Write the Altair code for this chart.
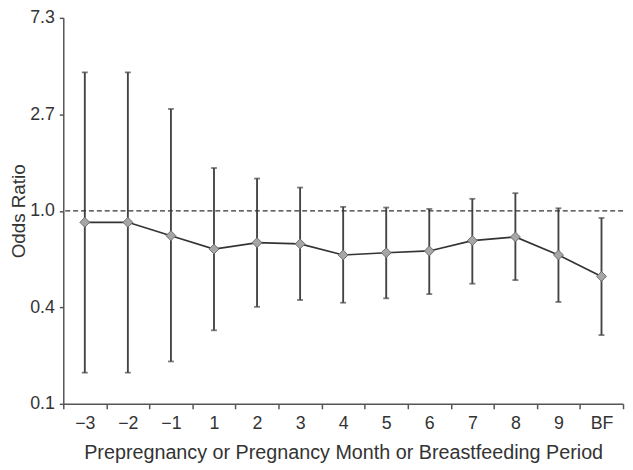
import math
import altair as alt
import pandas as pd

periods = ["−3", "−2", "−1", "1", "2", "3", "4", "5", "6", "7", "8", "9", "BF"]
odds_ratio = [0.888, 0.888, 0.773, 0.673, 0.719, 0.710, 0.633, 0.648, 0.660, 0.735, 0.763, 0.633, 0.507]
ci_upper = [4.20, 4.20, 2.875, 1.559, 1.398, 1.273, 1.042, 1.035, 1.020, 1.133, 1.201, 1.027, 0.929]
ci_lower = [0.187, 0.187, 0.210, 0.290, 0.370, 0.397, 0.386, 0.404, 0.422, 0.470, 0.488, 0.389, 0.276]
tick_exponents = [-2, -1, 0, 1, 2]
tick_labels = ["0.1", "0.4", "1.0", "2.7", "7.3"]
reference_or = [1.0]

df = pd.DataFrame({"period": periods, "or": odds_ratio, "lo": ci_lower, "hi": ci_upper})
ref = pd.DataFrame({"ref": reference_or})

tick_values = [math.exp(k) for k in tick_exponents]
label_expr = ""
for k, lab in zip(tick_exponents, tick_labels):
    label_expr += f"round(log(datum.value)) == {k} ? '{lab}' : "
label_expr += "''"

FONT = "Liberation Sans"
TXT = "#333333"
AX = "#555555"

x_axis = alt.Axis(
    title="Prepregnancy or Pregnancy Month or Breastfeeding Period",
    labelAngle=0,
    tickBand="extent",
    tickSize=5,
    labelFontSize=18,
    labelPadding=6,
    titleFontSize=20,
    titlePadding=10,
)
x_scale = alt.Scale(type="band", paddingInner=0, paddingOuter=0)
x_enc = alt.X("period:N", sort=periods, scale=x_scale, axis=x_axis)

y_scale = alt.Scale(type="log", domain=[math.exp(-2), math.exp(2)], nice=False)
y_axis = alt.Axis(
    title="Odds Ratio",
    values=tick_values,
    labelExpr=label_expr,
    tickSize=4,
    labelFontSize=18,
    labelPadding=5,
    titleFontSize=19,
    titlePadding=1,
)

base = alt.Chart(df)

refline = alt.Chart(ref).mark_rule(color="#333333", strokeDash=[5, 3], strokeWidth=1.4).encode(
    y=alt.Y("ref:Q", scale=y_scale, axis=y_axis)
)

bars = base.mark_rule(color="#444444", strokeWidth=1.9).encode(
    x=x_enc,
    y=alt.Y("lo:Q", scale=y_scale, axis=y_axis),
    y2="hi:Q",
)
cap_lo = base.mark_tick(color="#444444", size=6, thickness=1.8).encode(
    x=x_enc, y=alt.Y("lo:Q", scale=y_scale, axis=y_axis)
)
cap_hi = base.mark_tick(color="#444444", size=6, thickness=1.8).encode(
    x=x_enc, y=alt.Y("hi:Q", scale=y_scale, axis=y_axis)
)
line = base.mark_line(color="#333333", strokeWidth=1.7).encode(
    x=x_enc, y=alt.Y("or:Q", scale=y_scale, axis=y_axis)
)
points = base.mark_point(
    shape="diamond", filled=True, fill="#a6a6a6", stroke="#6e6e6e", strokeWidth=1, size=100, opacity=1
).encode(x=x_enc, y=alt.Y("or:Q", scale=y_scale, axis=y_axis))

chart = (
    alt.layer(bars, cap_lo, cap_hi, refline, line, points)
    .properties(
        width=567,
        height=391,
        autosize=alt.AutoSizeParams(type="none"),
        padding={"left": 56, "top": 7, "right": 2, "bottom": 62},
    )
    .configure_view(stroke=None)
    .configure_axis(
        grid=False,
        tickColor=AX,
        domainColor=AX,
        domainWidth=1.5,
        tickWidth=1.5,
        labelColor=TXT,
        labelFont=FONT,
        titleColor=TXT,
        titleFont=FONT,
        titleFontWeight="normal",
    )
)

chart.save("out.html", embed_options={"renderer": "svg", "actions": False})
